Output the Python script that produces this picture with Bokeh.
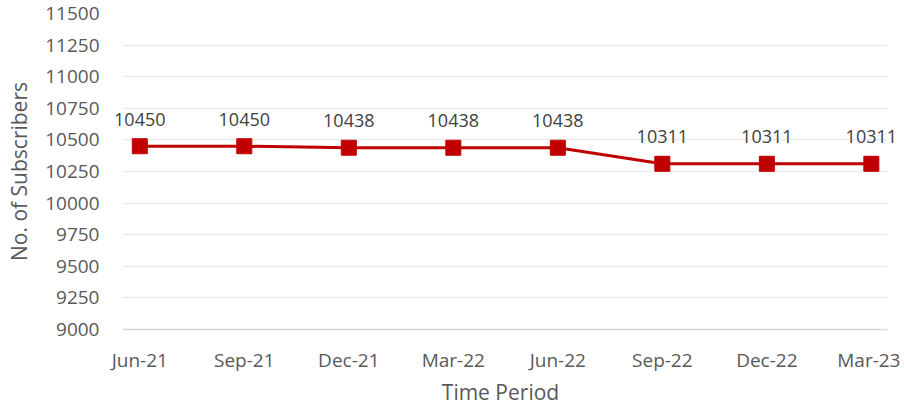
from bokeh.plotting import figure
from bokeh.models import ColumnDataSource, FixedTicker, Range1d, LabelSet
from bokeh.core.properties import value
from bokeh.embed import file_html
from bokeh.resources import INLINE

periods = ["Jun-21", "Sep-21", "Dec-21", "Mar-22", "Jun-22", "Sep-22", "Dec-22", "Mar-23"]
subscribers = [10450, 10450, 10438, 10438, 10438, 10311, 10311, 10311]
y_ticks = [9000, 9250, 9500, 9750, 10000, 10250, 10500, 10750, 11000, 11250, 11500]

FONT = "Open Sans"
GREY = "#595959"
RED = "#C00000"

idx = list(range(len(periods)))
src = ColumnDataSource(dict(x=idx, y=subscribers, lab=[str(v) for v in subscribers]))

p = figure(width=900, height=408, output_backend="svg", toolbar_location=None,
           x_range=Range1d(-0.376, 7.279), y_range=Range1d(9000, 11500),
           min_border_left=100, min_border_right=0, min_border_top=13, min_border_bottom=78)
p.outline_line_color = None
p.background_fill_color = "white"

p.line("x", "y", source=src, line_color=RED, line_width=3)
p.scatter("x", "y", source=src, marker="square", size=15, fill_color=RED, line_color=RED)
labels = LabelSet(x="x", y="y", text="lab", source=src, y_offset=27, text_align="center",
                  text_baseline="middle", text_font=value(FONT), text_font_size=value("18px"),
                  text_color=value("#404040"))
p.add_layout(labels)

p.xaxis.ticker = FixedTicker(ticks=idx)
p.xaxis.major_label_overrides = {i: s for i, s in enumerate(periods)}
p.xaxis.bounds = (-0.166, 7.155)
p.yaxis.ticker = FixedTicker(ticks=y_ticks)
p.xgrid.grid_line_color = None
p.ygrid.grid_line_color = "#EBEBEB"
p.ygrid.grid_line_width = 1.5
p.ygrid.cross_bounds = (-0.166, 7.155)

for ax in (p.xaxis, p.yaxis):
    ax.major_tick_line_color = None
    ax.minor_tick_line_color = None
    ax.major_tick_out = 0
    ax.major_tick_in = 0
    ax.major_label_text_font = FONT
    ax.major_label_text_font_size = "19px"
    ax.major_label_text_color = GREY
    ax.axis_label_text_font = FONT
    ax.axis_label_text_font_size = "21px"
    ax.axis_label_text_font_style = "normal"
    ax.axis_label_text_color = GREY
p.yaxis.axis_line_color = None
p.xaxis.axis_line_color = "#D9D9D9"
p.xaxis.axis_line_width = 1.5
p.yaxis.major_label_standoff = 1
p.xaxis.major_label_standoff = 17
p.xaxis.axis_label = "Time Period"
p.yaxis.axis_label = "No. of Subscribers"
p.xaxis.axis_label_standoff = 2
p.yaxis.axis_label_standoff = 9

open("out.html", "w").write(file_html(p, INLINE))
